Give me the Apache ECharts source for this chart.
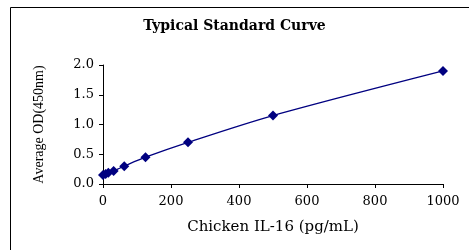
<!DOCTYPE html>
<html>
<head>
<meta charset="utf-8">
<script src="https://cdn.jsdelivr.net/npm/echarts@6/dist/echarts.min.js"></script>
<style>
  html, body { margin: 0; padding: 0; background: #fff; }
  #chart { width: 469px; height: 250px; }
</style>
</head>
<body>
<div id="chart"></div>
<script>
// standard concentrations (pg/mL) and average OD at 450nm
const conc = [0, 7.8, 15.6, 31.25, 62.5, 125, 250, 500, 1000]
const od = [0.15, 0.17, 0.19, 0.22, 0.30, 0.45, 0.70, 1.15, 1.90]
const yTicks = [0, 0.5, 1.0, 1.5, 2.0]

const chart = echarts.init(document.getElementById('chart'))
const serif = '"Liberation Serif", "DejaVu Serif", serif'
const wide = '"DejaVu Serif", serif'

chart.setOption({
  animation: false,
  title: {
    text: 'Typical Standard Curve',
    left: 'center',
    top: 14,
    textStyle: { fontFamily: wide, fontSize: 14, fontWeight: 'bold', color: '#000' }
  },
  graphic: [{
    type: 'rect',
    shape: { x: 10.5, y: 7.5, width: 470, height: 260 },
    style: { fill: 'none', stroke: '#000', lineWidth: 1 },
    z: -1
  }],
  grid: { left: 103, right: 26, top: 65, bottom: 66 },
  xAxis: {
    type: 'value',
    min: 0, max: 1000, interval: 200,
    name: 'Chicken IL-16 (pg/mL)',
    nameLocation: 'middle',
    nameGap: 36,
    nameTextStyle: { fontFamily: wide, fontSize: 15, color: '#000' },
    axisLine: { lineStyle: { color: '#000' } },
    axisTick: { show: true, inside: false, length: 4, lineStyle: { color: '#000' } },
    axisLabel: { fontFamily: wide, fontSize: 13, color: '#000', margin: 11,
      formatter: v => String(v) },
    splitLine: { show: false }
  },
  yAxis: {
    type: 'value',
    min: yTicks[0], max: yTicks[yTicks.length - 1], interval: 0.5,
    name: 'Average OD(450nm)',
    nameLocation: 'middle',
    nameGap: 57,
    nameTextStyle: { fontFamily: serif, fontSize: 14, color: '#000' },
    axisLine: { show: true, lineStyle: { color: '#000' } },
    axisTick: { show: true, length: 4, lineStyle: { color: '#000' } },
    axisLabel: { fontFamily: wide, fontSize: 13, color: '#000', margin: 9,
      formatter: v => v.toFixed(1) },
    splitLine: { show: false }
  },
  series: [{
    type: 'line',
    data: conc.map((c, i) => [c, od[i]]),
    smooth: 0.3,
    symbol: 'diamond',
    symbolSize: 10,
    lineStyle: { color: '#000080', width: 1.3 },
    itemStyle: { color: '#000080' }
  }]
})
</script>
</body>
</html>
